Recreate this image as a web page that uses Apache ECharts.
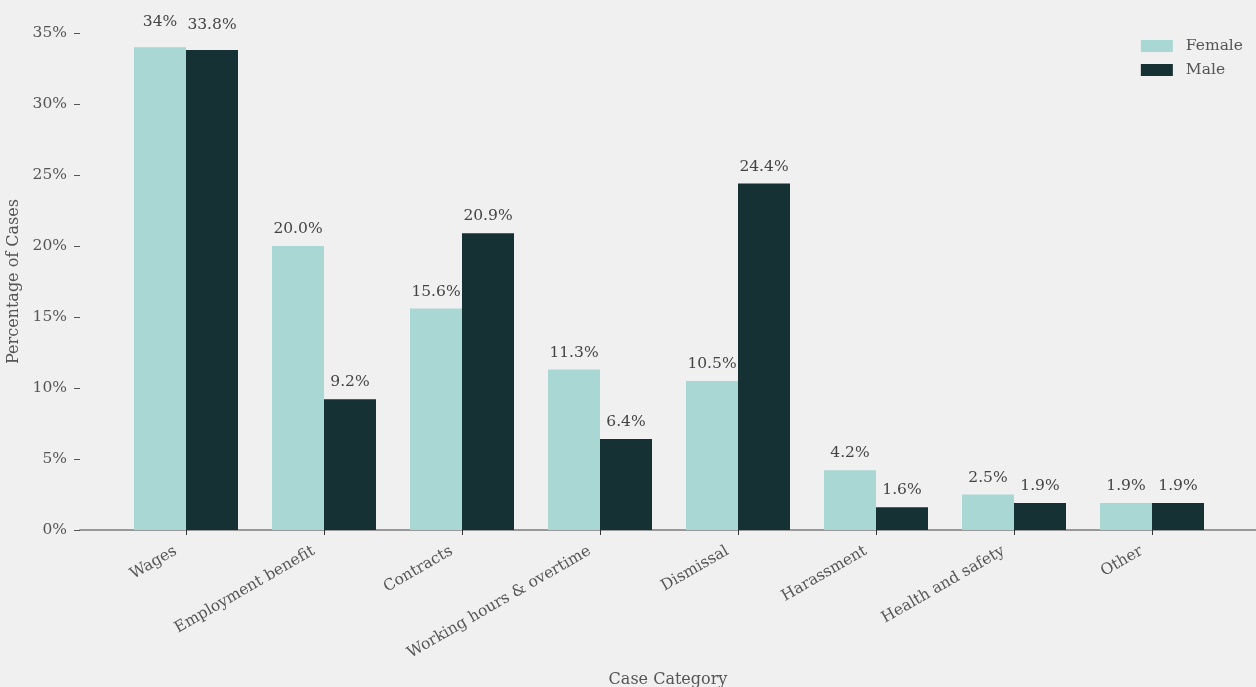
<!DOCTYPE html>
<html><head><meta charset="utf-8">
<script src="https://cdn.jsdelivr.net/npm/echarts@6/dist/echarts.min.js"></script>
<style>html,body{margin:0;padding:0;background:#f0f0f0}#c{width:1256px;height:687px}</style>
</head><body><div id="c"></div>
<script>
const categories = ['Wages','Employment benefit','Contracts','Working hours & overtime','Dismissal','Harassment','Health and safety','Other'];
const femaleValues = [34, 20.0, 15.6, 11.3, 10.5, 4.2, 2.5, 1.9];
const maleValues = [33.8, 9.2, 20.9, 6.4, 24.4, 1.6, 1.9, 1.9];
const femaleLabels = ['34%','20.0%','15.6%','11.3%','10.5%','4.2%','2.5%','1.9%'];
const maleLabels = ['33.8%','9.2%','20.9%','6.4%','24.4%','1.6%','1.9%','1.9%'];

const FONT = '"DejaVu Serif", serif';
const chart = echarts.init(document.getElementById('c'));
const labelStyle = (arr) => ({show:true, position:'top', distance:9, fontFamily:FONT, fontSize:15.5, color:'#444',
  formatter: p => arr[p.dataIndex]});
// the first group's labels sit higher in the reference (top of chart)
const toData = (vals) => vals.map((v, i) => i === 0 ? {value:v, label:{distance:17}} : v);
chart.setOption({
  backgroundColor:'#f0f0f0',
  animation:false,
  legend:{orient:'vertical', right:13, top:38, padding:0, itemWidth:32, itemHeight:12, itemGap:8, icon:'rect',
    textStyle:{fontFamily:FONT, fontSize:15.5, color:'#555', padding:[0,0,0,8]}, data:['Female','Male']},
  grid:[
    {left:80, right:0, top:33, bottom:157, outerBoundsMode:'none', containLabel:false},
    {left:117, width:1104, top:33, bottom:157, outerBoundsMode:'none', containLabel:false}
  ],
  xAxis:[
    {gridIndex:0, type:'value', min:0, max:1, axisLine:{show:true, lineStyle:{color:'#999', width:2}},
     axisTick:{show:false}, axisLabel:{show:false}, splitLine:{show:false},
     name:'Case Category', nameLocation:'middle', nameGap:142, nameTextStyle:{fontFamily:FONT, fontSize:16, color:'#555'}},
    {gridIndex:1, type:'category', data:categories, axisLine:{show:false},
     axisTick:{show:true, alignWithLabel:true, length:5, lineStyle:{color:'#333'}},
     axisLabel:{rotate:30, fontFamily:FONT, fontSize:15.5, color:'#555', margin:14, padding:[0,12,0,0], interval:0}}
  ],
  yAxis:[
    {gridIndex:0, type:'value', min:0, max:35, interval:5, axisLine:{show:false},
     axisTick:{show:true, length:6, lineStyle:{color:'#555'}}, splitLine:{show:false},
     axisLabel:{fontFamily:FONT, fontSize:15.5, color:'#555', margin:13, formatter: v => v + '%'},
     name:'Percentage of Cases', nameLocation:'middle', nameGap:56, nameTextStyle:{fontFamily:FONT, fontSize:16, color:'#555'}},
    {gridIndex:1, type:'value', min:0, max:35, show:false}
  ],
  series:[
    {name:'Female', type:'bar', xAxisIndex:1, yAxisIndex:1, data:toData(femaleValues), barWidth:52, barGap:'0%',
     itemStyle:{color:'#a9d7d3'}, label:labelStyle(femaleLabels)},
    {name:'Male', type:'bar', xAxisIndex:1, yAxisIndex:1, data:toData(maleValues), barWidth:52, barGap:'0%',
     itemStyle:{color:'#163133'}, label:labelStyle(maleLabels)}
  ]
});
</script></body></html>
